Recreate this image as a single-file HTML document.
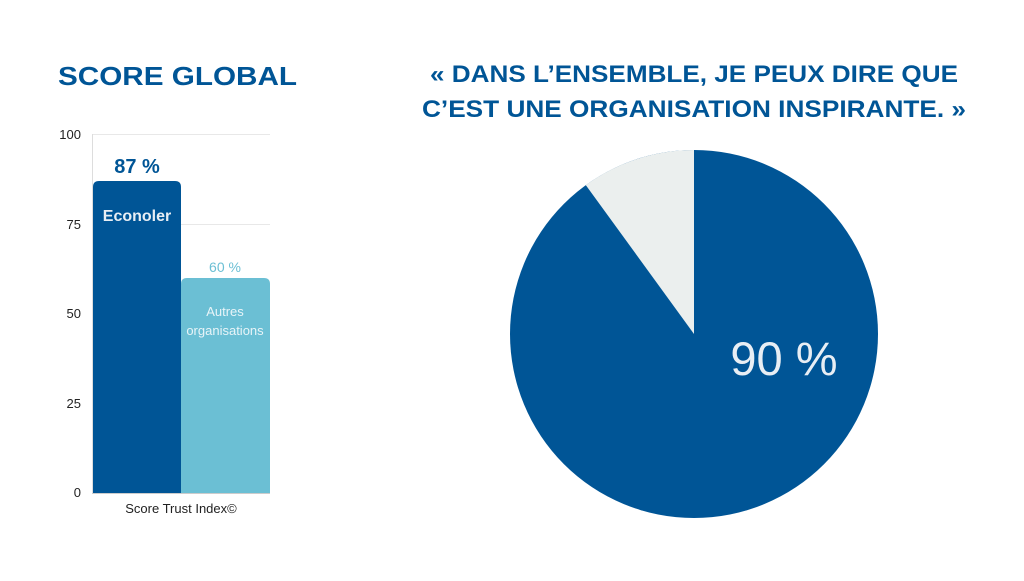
<!DOCTYPE html>
<html><head><meta charset="utf-8"><style>
body{margin:0;width:1024px;height:576px;background:#fff;overflow:hidden;font-family:"Liberation Sans",sans-serif}
</style></head><body>
<svg width="1024" height="576" xmlns="http://www.w3.org/2000/svg" font-family="Liberation Sans, sans-serif">
<text x="58" y="85" font-size="26" font-weight="bold" fill="#005596" textLength="239" lengthAdjust="spacingAndGlyphs">SCORE GLOBAL</text>
<text x="430" y="82" font-size="24" font-weight="bold" fill="#005596" textLength="528" lengthAdjust="spacingAndGlyphs">« DANS L’ENSEMBLE, JE PEUX DIRE QUE</text>
<text x="422" y="117" font-size="24" font-weight="bold" fill="#005596" textLength="544" lengthAdjust="spacingAndGlyphs">C’EST UNE ORGANISATION INSPIRANTE. »</text>
<g stroke="#e8e8e8" stroke-width="1">
<line x1="93" y1="134.5" x2="270" y2="134.5"/><line x1="93" y1="224.5" x2="270" y2="224.5"/>
<line x1="93" y1="313.5" x2="270" y2="313.5"/><line x1="93" y1="403.5" x2="270" y2="403.5"/>
</g>
<g font-size="13" fill="#222" text-anchor="end">
<text x="81" y="139">100</text><text x="81" y="229">75</text><text x="81" y="318">50</text><text x="81" y="408">25</text><text x="81" y="497">0</text>
</g>
<path d="M93 493 V187 Q93 181 99 181 H175 Q181 181 181 187 V493 Z" fill="#005596"/>
<path d="M181 493 V284 Q181 278 187 278 H264 Q270 278 270 284 V493 Z" fill="#6bbfd4"/>
<line x1="92.5" y1="134" x2="92.5" y2="493" stroke="#ddd"/>
<line x1="92" y1="493.5" x2="270" y2="493.5" stroke="#ccc"/>
<text x="137" y="173" font-size="20" font-weight="bold" fill="#005596" text-anchor="middle">87 %</text>
<text x="137" y="221" font-size="16" font-weight="bold" fill="#e8eef4" text-anchor="middle">Econoler</text>
<text x="225" y="272" font-size="14" fill="#6bbfd4" text-anchor="middle">60 %</text>
<text x="225" y="316" font-size="13" fill="#e8f4f8" text-anchor="middle">Autres</text>
<text x="225" y="335" font-size="13" fill="#e8f4f8" text-anchor="middle">organisations</text>
<text x="181" y="513" font-size="13" fill="#222" text-anchor="middle">Score Trust Index©</text>
<circle cx="694" cy="334" r="184" fill="#005596"/>
<path d="M694 334 L694 150 A184 184 0 0 0 585.8 185.1 Z" fill="#ebefee"/>
<text x="784" y="375" font-size="47" fill="#e8eef4" text-anchor="middle">90 %</text>
</svg>
</body></html>
